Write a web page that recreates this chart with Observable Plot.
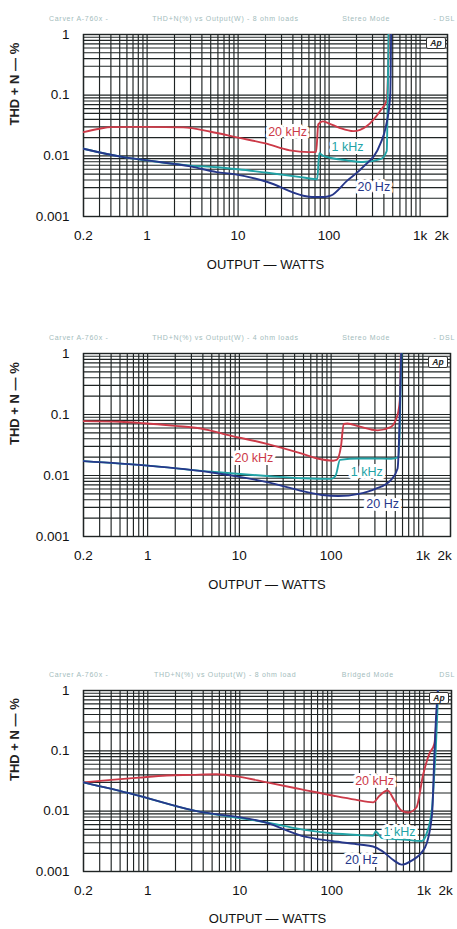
<!DOCTYPE html>
<html>
<head>
<meta charset="utf-8">
<script src="https://cdn.jsdelivr.net/npm/d3@7"></script>
<script src="https://cdn.jsdelivr.net/npm/@observablehq/plot@0.6"></script>
<style>
  html, body { margin: 0; padding: 0; background: #fff; }
  #root { position: relative; width: 457px; height: 929px; overflow: hidden; font-family: "Liberation Sans", Arial, sans-serif; }
  .panel { position: absolute; left: 0; }
  .hdr { position: absolute; left: 49px; width: 406px; display: flex; justify-content: space-between;
         font-size: 7px; letter-spacing: 0.7px; color: #a3bcbc; white-space: nowrap; line-height: 8px; }
  .ap { position: absolute; width: 18px; height: 10px; border: 1px solid #333; border-radius: 2px; background: #fff;
        font-size: 8.5px; font-weight: bold; font-style: italic; line-height: 10px; text-align: center; color: #222; }
</style>
</head>
<body>
<div id="root"></div>
<script>
// ---------- axis ticks ----------
const xTicks = [0.2, 1, 10, 100, 1000];
const xTickLabels = ["0.2", "1", "10", "100", "1k"];
const xEndTick = [2000];
const xEndTickLabel = "2k";
const yTicks = [0.001, 0.01, 0.1, 1];
const yTickLabels = ["0.001", "0.01", "0.1", "1"];
const xTitle = "OUTPUT — WATTS";
const yTitle = "THD + N — %";
const seriesNames = ["20 kHz", "1 kHz", "20 Hz"];
const seriesColors = ["#cc3a48", "#22a3a6", "#26378a"];

// ---------- panel 1: 8 ohm loads, stereo ----------
const p1Header = ["Carver A-760x  -", "THD+N(%)  vs  Output(W)  -  8 ohm loads", "Stereo Mode", "-  DSL"];
const p1W20k = [0.2, 0.3, 0.4, 1, 2.5, 5, 10, 20, 37, 60, 72, 76, 85, 100, 130, 185, 260, 367, 430, 445, 455];
const p1P20k = [0.0246, 0.028, 0.0297, 0.030, 0.0295, 0.025, 0.020, 0.016, 0.0123, 0.0115, 0.0115, 0.033, 0.037, 0.034, 0.029, 0.0255, 0.031, 0.056, 0.082, 0.25, 1];
const p1W1k = [0.2, 0.55, 1, 3, 5.8, 10, 20, 52, 74, 78, 85, 158, 235, 367, 430, 440, 450];
const p1P1k = [0.0131, 0.0095, 0.0084, 0.0069, 0.0065, 0.006, 0.0053, 0.0044, 0.0041, 0.011, 0.0101, 0.0084, 0.0079, 0.0088, 0.012, 0.08, 1];
const p1W20 = [0.2, 0.55, 1, 3, 5.8, 9, 21, 52, 65, 90, 104, 158, 235, 367, 420, 470, 480];
const p1P20 = [0.0131, 0.0095, 0.0084, 0.0067, 0.0054, 0.005, 0.0037, 0.0022, 0.0021, 0.0021, 0.0022, 0.0039, 0.0065, 0.016, 0.03, 0.1, 1];
const p1LabelW = [35, 159, 310];
const p1LabelP = [0.025, 0.0138, 0.0031];

// ---------- panel 2: 4 ohm loads, stereo ----------
const p2Header = ["Carver A-760x  -", "THD+N(%)  vs  Output(W)  -  4 ohm loads", "Stereo Mode", "-  DSL"];
const p2W20k = [0.2, 0.5, 0.9, 2, 3.8, 8, 20, 47, 71, 105, 115, 128, 137, 150, 200, 320, 446, 527, 560, 575];
const p2P20k = [0.078, 0.076, 0.072, 0.065, 0.059, 0.045, 0.033, 0.023, 0.019, 0.0175, 0.018, 0.03, 0.07, 0.071, 0.064, 0.055, 0.062, 0.096, 0.17, 1];
const p2W1k = [0.2, 1, 5, 20, 50, 100, 112, 125, 200, 300, 450, 540, 560, 575, 585];
const p2P1k = [0.0172, 0.0145, 0.0115, 0.0098, 0.009, 0.0088, 0.01, 0.018, 0.019, 0.019, 0.0188, 0.02, 0.06, 0.4, 1];
const p2W20 = [0.2, 1, 5, 10, 20, 50, 80, 120, 200, 300, 450, 530, 560, 580];
const p2P20 = [0.0172, 0.0145, 0.0112, 0.0095, 0.0078, 0.0055, 0.0048, 0.0046, 0.005, 0.006, 0.0085, 0.013, 0.1, 1];
const p2LabelW = [14.4, 244, 364];
const p2LabelP = [0.019, 0.0112, 0.0034];

// ---------- panel 3: 8 ohm load, bridged ----------
const p3Header = ["Carver A-760x  -", "THD+N(%)  vs  Output(W)  -  8 ohm load", "Bridged Mode", "DSL"];
const p3W20k = [0.2, 0.4, 0.8, 1.6, 3, 5.6, 10, 19.7, 47, 105, 180, 281, 330, 403, 480, 573, 680, 830, 986, 1150, 1300, 1380, 1420];
const p3P20k = [0.030, 0.033, 0.036, 0.039, 0.040, 0.041, 0.037, 0.030, 0.023, 0.018, 0.0155, 0.014, 0.018, 0.022, 0.015, 0.0102, 0.0095, 0.0115, 0.041, 0.09, 0.13, 0.4, 1];
const p3W1k = [0.2, 0.7, 3.2, 19.7, 47, 100, 200, 281, 300, 350, 600, 950, 1070, 1230, 1300, 1350, 1400, 1430];
const p3P1k = [0.030, 0.019, 0.0102, 0.0065, 0.005, 0.0043, 0.004, 0.0039, 0.0046, 0.0036, 0.0034, 0.0032, 0.0042, 0.0114, 0.042, 0.11, 0.4, 1];
const p3W20 = [0.2, 0.7, 3.2, 19.7, 47, 100, 200, 281, 350, 480, 573, 730, 1030, 1230, 1300, 1350, 1420];
const p3P20 = [0.030, 0.019, 0.0102, 0.0064, 0.0039, 0.0032, 0.0028, 0.0026, 0.0022, 0.0015, 0.0013, 0.0015, 0.0025, 0.009, 0.078, 0.3, 1];
const p3LabelW = [292, 545, 210];
const p3LabelP = [0.032, 0.0046, 0.00155];

// ---------- log grid (1..9 per decade) ----------
function logGrid(lo, hi) {
  const out = [];
  for (let e = Math.floor(Math.log10(lo)); e <= Math.ceil(Math.log10(hi)); e++) {
    for (let m = 1; m <= 9; m++) {
      const v = +(m * Math.pow(10, e)).toPrecision(6);
      if (v >= lo - 1e-12 && v <= hi + 1e-12) out.push(v);
    }
  }
  return out;
}
const xGrid = logGrid(0.2, 2000);
const yGrid = logGrid(0.001, 1);

const zip = (W, P) => W.map((w, i) => ({w, p: P[i]}));

function panel(cfg) {
  const series = [
    zip(cfg.w20k, cfg.p20k),
    zip(cfg.w1k, cfg.p1k),
    zip(cfg.w20, cfg.p20)
  ];
  const labels = seriesNames.map((name, i) => ({name, w: cfg.lw[i], p: cfg.lp[i], c: seriesColors[i]}));
  return Plot.plot({
    width: 457,
    height: cfg.height,
    marginTop: cfg.mt,
    marginBottom: cfg.mb,
    marginLeft: 83,
    marginRight: cfg.mr,
    x: {type: "log", domain: [0.2, 2000]},
    y: {type: "log", domain: [0.001, 1]},
    style: {fontFamily: "'Liberation Sans', Arial, sans-serif", background: "white", color: "#111"},
    marks: [
      Plot.ruleX(xGrid, {stroke: "#1f2424", strokeWidth: 1.15}),
      Plot.ruleY(yGrid, {stroke: "#1f2424", strokeWidth: 1.15}),
      Plot.frame({stroke: "#1f2424", strokeWidth: 1.4}),
      Plot.axisX({ticks: xTicks, tickFormat: d => xTickLabels[xTicks.indexOf(d)], tickSize: 0, tickPadding: 14, fontSize: 13.5, label: null}),
      Plot.axisX({ticks: xEndTick, tickFormat: () => xEndTickLabel, tickSize: 0, tickPadding: 14, fontSize: 13.5, label: null, dx: -6}),
      Plot.axisY({ticks: yTicks, tickFormat: d => yTickLabels[yTicks.indexOf(d)], tickSize: 0, tickPadding: 14, fontSize: 13.5, label: null}),
      Plot.text([xTitle], {frameAnchor: "bottom", dy: cfg.xtDy, fontSize: 13, fill: "#111", text: d => d, style: "letter-spacing:1.6px"}),
      Plot.text([yTitle], {frameAnchor: "left", dx: -69, rotate: -90, fontSize: 13, fontWeight: "bold", fill: "#222", text: d => d, style: "letter-spacing:1.2px"}),
      ...series.map((s, i) => Plot.line(s, {x: "w", y: "p", stroke: seriesColors[i], strokeWidth: 1.9, curve: "monotone-x", clip: true})),
      Plot.text(labels, {x: "w", y: "p", text: "name", fill: "c", fontSize: 12.5, stroke: "white", strokeWidth: 6, paintOrder: "stroke"})
    ]
  });
}

const panels = [
  {top: 0, hdrTop: 15, height: 290, mt: 34, mb: 74, mr: 10, xtDy: 52, header: p1Header, apLeft: 426, apTop: 37,
   w20k: p1W20k, p20k: p1P20k, w1k: p1W1k, p1k: p1P1k, w20: p1W20, p20: p1P20, lw: p1LabelW, lp: p1LabelP},
  {top: 320, hdrTop: 334, height: 290, mt: 33, mb: 74, mr: 7, xtDy: 52, header: p2Header, apLeft: 428, apTop: 356,
   w20k: p2W20k, p20k: p2P20k, w1k: p2W1k, p1k: p2P1k, w20: p2W20, p20: p2P20, lw: p2LabelW, lp: p2LabelP},
  {top: 655, hdrTop: 671, height: 274, mt: 35, mb: 58, mr: 6, xtDy: 51, header: p3Header, apLeft: 429, apTop: 692,
   w20k: p3W20k, p20k: p3P20k, w1k: p3W1k, p1k: p3P1k, w20: p3W20, p20: p3P20, lw: p3LabelW, lp: p3LabelP}
];

const root = document.getElementById("root");
for (const cfg of panels) {
  const wrap = document.createElement("div");
  wrap.className = "panel";
  wrap.style.top = cfg.top + "px";
  wrap.appendChild(panel(cfg));
  root.appendChild(wrap);
  const hdr = document.createElement("div");
  hdr.className = "hdr";
  hdr.style.top = cfg.hdrTop + "px";
  for (const t of cfg.header) {
    const s = document.createElement("span");
    s.textContent = t;
    hdr.appendChild(s);
  }
  root.appendChild(hdr);
  const ap = document.createElement("div");
  ap.className = "ap";
  ap.style.left = cfg.apLeft + "px";
  ap.style.top = cfg.apTop + "px";
  ap.textContent = "Ap";
  root.appendChild(ap);
}
</script>
</body>
</html>
